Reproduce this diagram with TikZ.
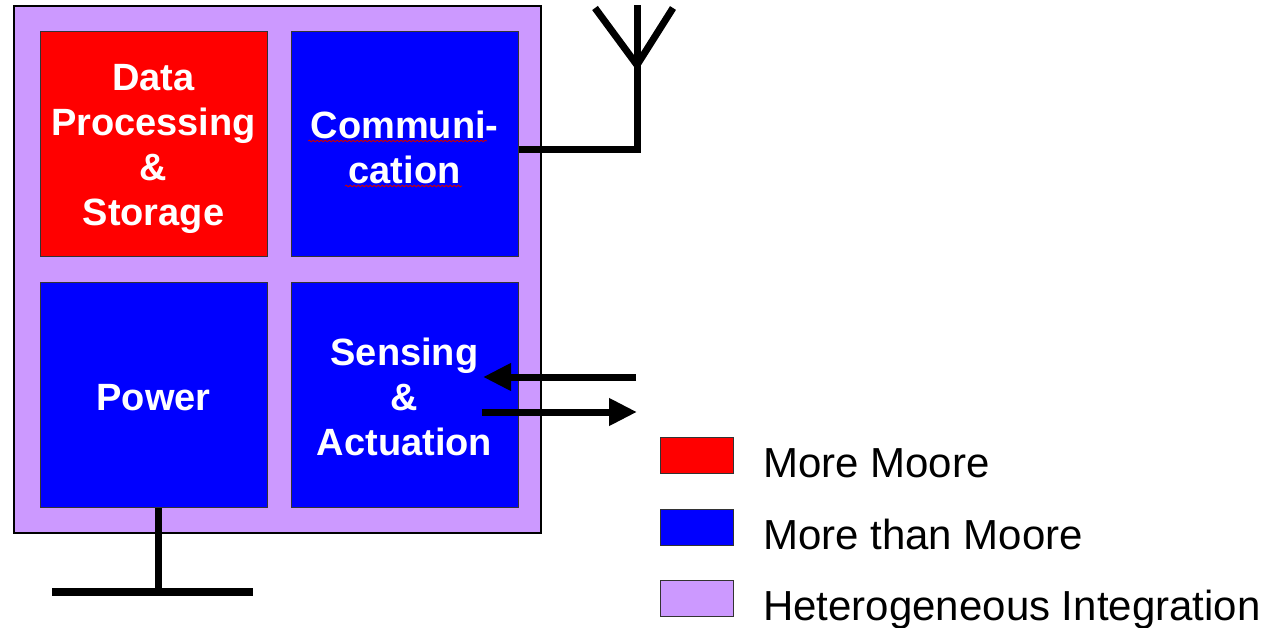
\documentclass[tikz,border=0pt]{standalone}
\usepackage{fontspec}
\setmainfont{Liberation Sans}
\usetikzlibrary{arrows.meta,decorations.pathmorphing}
\definecolor{hpurple}{HTML}{CC99FF}
\definecolor{mred}{HTML}{FF0000}
\definecolor{mblue}{HTML}{0000FF}
\begin{document}
\begin{tikzpicture}[x=1pt,y=-1pt,
  blk/.style={draw=black!80, line width=1pt, minimum width=227pt, minimum height=225pt, inner sep=0pt},
  blktxt/.style={text=white, font=\fontsize{38}{45}\selectfont\bfseries, align=center, inner sep=0pt},
  wire/.style={line width=7pt},
  arr/.style={line width=7pt, -{Triangle[length=28pt,width=26pt]}},
  leg/.style={draw=black!80, line width=1pt, minimum width=73pt, minimum height=36pt, inner sep=0pt},
  legtxt/.style={anchor=base west, font=\fontsize{42}{48}\selectfont, inner sep=0pt},
  squig/.style={draw=red!80!black, line width=0.8pt, decorate, decoration={snake, amplitude=0.9pt, segment length=4pt}}]
\useasboundingbox (0,0) rectangle (1271,628);
% chip
\node[draw=black, line width=2pt, fill=hpurple, minimum width=527pt, minimum height=526pt, inner sep=0pt] (chip) at (277.5,269.5) {};
\node[blk, fill=mred, label={[blktxt, yshift=-4pt]center:{Data\\Processing\\\&\\Storage}}] (dp) at (153.5,144.5) {};
\node[blk, fill=mblue, label={[blktxt, yshift=-2.5pt]center:{Communi-\\cation}}] (com) at (404.5,144.5) {};
\node[blk, fill=mblue, label={[blktxt, yshift=-2.5pt]center:{Power}}] (pow) at (153.5,395) {};
\node[blk, fill=mblue, label={[blktxt, yshift=-2pt]center:{Sensing\\\&\\Actuation}}] (sen) at (404.5,395) {};
% spell-check underlines
\draw[squig] (308,141) -- (487,141);
\draw[squig] (345,186) -- (462,186);
% antenna
\coordinate (ant) at (637,150);
\coordinate (fork) at (637,65);
\coordinate (anttop) at (637,5);
\coordinate (armL) at (595,8);
\coordinate (armR) at (673,8);
\draw[wire] (com.east |- ant) -- (ant) -- (fork) -- (anttop);
\draw[wire, line join=miter] (armL) -- (fork) -- (armR);
% ground
\coordinate (gnd) at (158,592);
\coordinate (gL) at (52,592);
\coordinate (gR) at (253,592);
\draw[wire] (pow.south -| gnd) -- (gnd);
\draw[wire, line width=8pt] (gL) -- (gR);
% sensing arrows
\coordinate (inS) at (636,377);
\coordinate (inE) at (483,377);
\coordinate (outS) at (482,412);
\coordinate (outE) at (637,412);
\draw[arr] (inS) -- (inE);
\draw[arr] (outS) -- (outE);
% legend
\node[leg, fill=mred] (l1) at (696.5,455) {};
\node[leg, fill=mblue] (l2) at (696.5,527) {};
\node[leg, fill=hpurple] (l3) at (696.5,598) {};
\node[legtxt] (t1) at (763,477) {More Moore};
\node[legtxt] (t2) at (763,549) {More than Moore};
\node[legtxt] (t3) at (763,620) {Heterogeneous Integration};
\end{tikzpicture}
\end{document}
